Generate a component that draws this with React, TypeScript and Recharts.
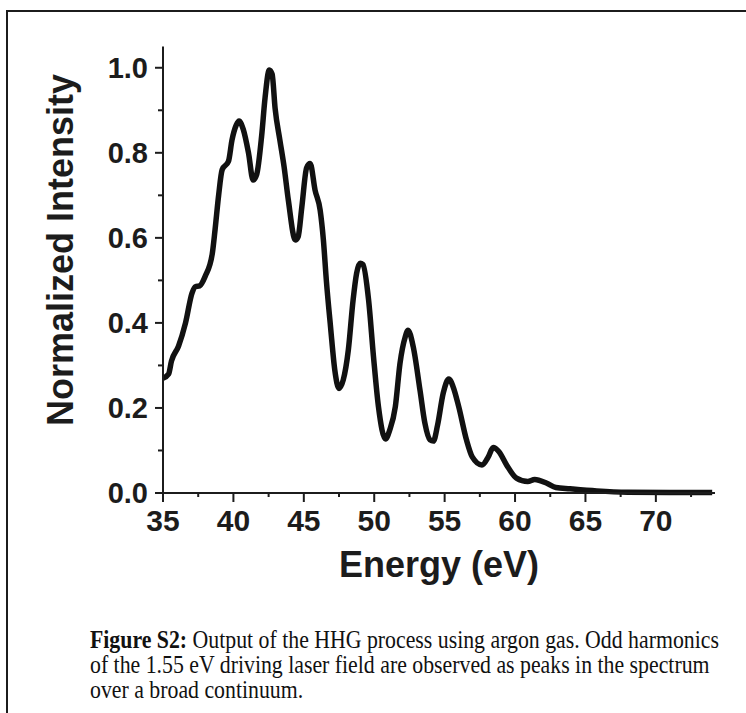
import { LineChart, Line, XAxis, YAxis } from "recharts";

// HHG spectrum in argon
const energy = [
  35.0, 35.4, 35.6, 36.1, 36.6, 37.06, 37.3, 37.6, 38.0, 38.5, 38.7, 38.95, 39.2, 39.65, 39.9,
  40.2, 40.4, 40.7, 41.07, 41.4, 41.66, 42.0, 42.25, 42.55, 42.75, 42.96, 43.3, 43.6, 43.9,
  44.4, 44.6, 44.86, 45.2, 45.45, 45.8, 46.16, 46.39, 46.6, 46.9, 47.2, 47.5, 47.8, 48.16,
  48.5, 48.75, 49.0, 49.2, 49.6, 49.95, 50.3, 50.8, 51.1, 51.5, 51.83, 52.2, 52.4, 52.77,
  53.25, 53.6, 53.96, 54.2, 54.5, 54.9, 55.3, 55.6, 56.0, 56.55, 56.96, 57.65, 58.1, 58.45,
  58.86, 59.4, 60.1, 60.9, 61.4, 62.26, 62.9, 63.9, 65.8, 68.0, 74.0,
];
const intensity = [
  0.27, 0.28, 0.31, 0.345, 0.4, 0.47, 0.485, 0.487, 0.51, 0.563, 0.62, 0.7, 0.76, 0.78, 0.83,
  0.865, 0.875, 0.855, 0.8, 0.736, 0.75, 0.838, 0.93, 0.995, 0.985, 0.905, 0.83, 0.767, 0.689,
  0.595, 0.603, 0.673, 0.765, 0.775, 0.712, 0.665, 0.595, 0.5, 0.39, 0.289, 0.246, 0.266, 0.336,
  0.454, 0.517, 0.54, 0.537, 0.454, 0.32, 0.203, 0.127, 0.148, 0.203, 0.305, 0.367, 0.383, 0.344,
  0.242, 0.164, 0.125, 0.122, 0.16, 0.235, 0.268, 0.25, 0.203, 0.125, 0.085, 0.066, 0.085, 0.107,
  0.097, 0.066, 0.035, 0.027, 0.032, 0.023, 0.013, 0.01, 0.005, 0.002, 0.001,
];

const xTicks = [35, 37.5, 40, 42.5, 45, 47.5, 50, 52.5, 55, 57.5, 60, 62.5, 65, 67.5, 70, 72.5];
const yTicks = [0, 0.1, 0.2, 0.3, 0.4, 0.5, 0.6, 0.7, 0.8, 0.9, 1.0];

const data = energy.map((e, i) => ({ energy: e, intensity: intensity[i] }));

const INK = "#1c1c1c";
const SANS = "'Liberation Sans', Arial, sans-serif";
const SERIF = "'Liberation Serif', 'Times New Roman', serif";

function XTick(props: any) {
  const { x, y, payload } = props;
  const major = payload.value % 5 === 0;
  return (
    <g>
      <line x1={x} x2={x} y1={y} y2={y + (major ? 9 : 4)} stroke={INK} strokeWidth={2} />
      {major && (
        <text x={x} y={y + 38} textAnchor="middle" fontFamily={SANS} fontWeight="bold" fontSize={30} fill={INK}>
          {payload.value}
        </text>
      )}
    </g>
  );
}

function YTick(props: any) {
  const { x, y, payload } = props;
  const major = Math.round(payload.value * 10) % 2 === 0;
  return (
    <g>
      <line x1={x - (major ? 8 : 5)} x2={x} y1={y} y2={y} stroke={INK} strokeWidth={2} />
      {major && (
        <text x={x - 15} y={y + 10} textAnchor="end" fontFamily={SANS} fontWeight="bold" fontSize={29} fill={INK}>
          {payload.value.toFixed(1)}
        </text>
      )}
    </g>
  );
}

export default function App() {
  return (
    <div style={{ position: "absolute", left: 0, top: 0, width: 746, height: 713, background: "#fff" }}>
      <div
        style={{
          position: "absolute", left: 6, top: 10, width: 740, height: 703,
          borderTop: `2px solid ${INK}`, borderLeft: `2px solid ${INK}`, boxSizing: "border-box",
        }}
      />
      <div style={{ position: "absolute", left: 0, top: 0 }}>
        <LineChart width={746} height={540} data={data} margin={{ top: 46.5, right: 31, left: 0, bottom: 7 }}>
          <XAxis
            dataKey="energy" type="number" domain={[35, 74.2]} ticks={xTicks} interval={0}
            height={40} tickSize={0} tickMargin={0} tickLine={false}
            axisLine={{ stroke: INK, strokeWidth: 2 }} tick={<XTick />}
          />
          <YAxis
            type="number" domain={[0, 1.05]} ticks={yTicks} interval={0}
            width={163} tickSize={0} tickMargin={0} tickLine={false}
            axisLine={{ stroke: INK, strokeWidth: 2 }} tick={<YTick />}
          />
          <Line
            dataKey="intensity" type="monotone" stroke="#111" strokeWidth={5.5}
            dot={false} isAnimationActive={false}
          />
        </LineChart>
      </div>
      <svg width={746} height={713} style={{ position: "absolute", left: 0, top: 0, pointerEvents: "none" }}>
        <text transform="translate(73,250) rotate(-90)" textAnchor="middle" fontFamily={SANS} fontWeight="bold" fontSize={36} fill={INK}>
          Normalized Intensity
        </text>
        <text x={439} y={577} textAnchor="middle" fontFamily={SANS} fontWeight="bold" fontSize={36} fill={INK}>
          Energy (eV)
        </text>
        <g transform="translate(90,0) scale(0.89,1)" fontFamily={SERIF} fontSize={24.5} fill="#111" style={{ whiteSpace: "pre" }}>
          <text x={0} y={648}>
            <tspan fontWeight="bold">Figure S2:</tspan>
            {"  Output of the HHG process using argon gas. Odd harmonics"}
          </text>
          <text x={0} y={673}>of the 1.55 eV driving laser field are observed as peaks in the spectrum</text>
          <text x={0} y={698}>over a broad continuum.</text>
        </g>
      </svg>
    </div>
  );
}
